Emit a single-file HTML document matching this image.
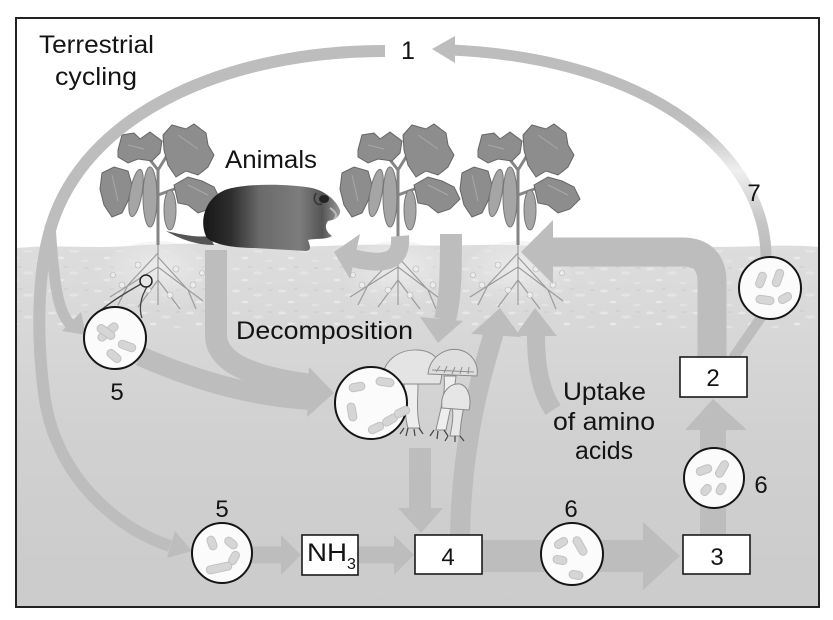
<!DOCTYPE html>
<html><head><meta charset="utf-8">
<style>
html,body{margin:0;padding:0;background:#fff;}
svg{display:block;}
text{font-family:"Liberation Sans",Arial,sans-serif;fill:#141414;}
</style></head><body>
<svg width="833" height="620" viewBox="0 0 833 620" xmlns="http://www.w3.org/2000/svg">
<defs>
 <linearGradient id="soil" x1="0" y1="245" x2="0" y2="607" gradientUnits="userSpaceOnUse">
  <stop offset="0" stop-color="#dddddd"/>
  <stop offset="0.22" stop-color="#d8d8d8"/>
  <stop offset="0.5" stop-color="#d1d1d1"/>
  <stop offset="1" stop-color="#cbcbcb"/>
 </linearGradient>
 <linearGradient id="arc7" x1="0" y1="110" x2="0" y2="250" gradientUnits="userSpaceOnUse">
  <stop offset="0" stop-color="#bdbdbd"/>
  <stop offset="0.15" stop-color="#c2c2c2"/>
  <stop offset="0.43" stop-color="#efefef"/>
  <stop offset="0.8" stop-color="#c6c6c6"/>
  <stop offset="1" stop-color="#bdbdbd"/>
 </linearGradient>
 <linearGradient id="animal" x1="200" y1="0" x2="342" y2="0" gradientUnits="userSpaceOnUse">
  <stop offset="0" stop-color="#141414"/>
  <stop offset="0.22" stop-color="#2e2e2e"/>
  <stop offset="0.42" stop-color="#6a6a6a"/>
  <stop offset="0.7" stop-color="#7d7d7d"/>
  <stop offset="0.86" stop-color="#555"/>
  <stop offset="1" stop-color="#a0a0a0"/>
 </linearGradient>
 <radialGradient id="rootz" cx="0.5" cy="0.4" r="0.6">
  <stop offset="0" stop-color="#ececec"/>
  <stop offset="1" stop-color="#e2e2e2" stop-opacity="0"/>
 </radialGradient>
 <pattern id="speck" x="0" y="0" width="46" height="22" patternUnits="userSpaceOnUse">
  <ellipse cx="6" cy="5" rx="4" ry="1.5" fill="#e9e9e9"/>
  <ellipse cx="28" cy="9" rx="5" ry="1.6" fill="#e6e6e6"/>
  <ellipse cx="15" cy="16" rx="3.5" ry="1.4" fill="#ececec"/>
  <ellipse cx="39" cy="19" rx="4" ry="1.3" fill="#e4e4e4"/>
  <ellipse cx="20" cy="3" rx="2.5" ry="1" fill="#cfcfcf"/>
  <ellipse cx="40" cy="4" rx="2.5" ry="1" fill="#d0d0d0"/>
 </pattern>
 <g id="plant">
  <path d="M0 0 L0 -75 M0 -75 L-18 -98 M0 -75 L18 -104 M0 -56 L-24 -64 M0 -50 L22 -58" stroke="#858585" stroke-width="3" fill="none"/>
  <g fill="#8d8d8d" stroke="#666" stroke-width="1">
   <path d="M-40 -95 L-36 -110 L-24 -112 L-18 -106 L-8 -113 L4 -104 L2 -92 L-6 -84 L-20 -86 L-30 -82 L-40 -88 Z"/>
   <path d="M5 -110 L14 -120 L28 -116 L36 -121 L48 -112 L50 -100 L56 -90 L50 -78 L40 -70 L28 -74 L18 -68 L10 -80 L6 -95 Z"/>
   <path d="M16 -60 L30 -68 L44 -64 L56 -58 L62 -46 L52 -36 L40 -32 L30 -40 L20 -42 Z"/>
   <path d="M-56 -72 L-44 -78 L-30 -74 L-26 -60 L-30 -44 L-36 -32 L-46 -28 L-54 -40 L-58 -56 Z"/>
  </g>
  <g fill="#a5a5a5" stroke="#777" stroke-width="1">
   <ellipse cx="-22" cy="-52" rx="6" ry="24" transform="rotate(10 -22 -52)"/>
   <ellipse cx="-8" cy="-48" rx="7" ry="30"/>
   <ellipse cx="12" cy="-35" rx="6" ry="20"/>
  </g>
  <g fill="none" stroke="#a8a8a8" stroke-width="1">
   <path d="M-30 -100 L-14 -96 M20 -110 L40 -96 M30 -60 L50 -50 M-46 -70 L-40 -44"/>
  </g>
 </g>
 <g id="roots">
  <ellipse cx="0" cy="30" rx="55" ry="34" fill="url(#rootz)"/>
  <path d="M0 0 L0 60 M0 8 L-30 40 M0 12 L30 45 M0 22 L-48 52 M0 22 L45 56 M0 35 L-20 62 M0 35 L22 64 M-30 40 L-40 60 M30 45 L38 64" stroke="#9c9c9c" stroke-width="1.2" fill="none"/>
  <g fill="#ececec" stroke="#b5b5b5" stroke-width="0.6">
   <circle cx="-20" cy="20" r="3"/><circle cx="18" cy="24" r="3"/><circle cx="-36" cy="40" r="3"/><circle cx="35" cy="40" r="3"/>
   <circle cx="-10" cy="45" r="3"/><circle cx="12" cy="50" r="3"/><circle cx="-45" cy="30" r="2.5"/><circle cx="44" cy="28" r="2.5"/>
  </g>
 </g>
</defs>

<rect width="833" height="620" fill="#fff"/>
<!-- soil -->
<path d="M17 248 C 60 244, 90 249, 130 246 S 220 243, 260 246 S 350 243, 400 245 S 480 243, 530 246 S 620 243, 680 246 S 780 243, 819 247 L819 606 L17 606 Z" fill="url(#soil)"/>
<rect x="17" y="250" width="802" height="80" fill="url(#speck)" opacity="0.8"/>

<!-- roots -->
<use href="#roots" x="158" y="245"/>
<use href="#roots" x="398" y="245"/>
<use href="#roots" x="518" y="245"/>

<!-- plants -->
<use href="#plant" x="158" y="245"/>
<use href="#plant" x="398" y="245"/>
<use href="#plant" x="518" y="245"/>

<!-- animal -->
<path d="M210 236 C195 238 180 234 166 231 C180 239 196 245 214 245 Z" fill="#555"/>
<path d="M207 238 C198 222 205 196 228 189 C250 183 290 184 312 188 C325 191 336 200 340 210 C341 216 335 220 328 221 C324 226 326 232 332 236 C326 240 316 238 308 240 C310 246 312 250 306 251 C290 250 270 249 255 248 C235 248 215 245 207 238 Z" fill="url(#animal)"/>
<ellipse cx="324" cy="199" rx="5" ry="4" fill="#222"/>
<path d="M316 193 C312 200 316 206 322 204" stroke="#333" stroke-width="1.5" fill="none"/>
<path d="M330 208 C336 212 338 216 334 219" stroke="#bbb" stroke-width="2" fill="none"/>

<!-- arrows -->
<g fill="none" stroke="#bdbdbd" stroke-linecap="butt">
 <path d="M385 51 C230 51 95 110 55 215 C38 260 35 330 45 400 C58 480 120 530 170 546" stroke-width="12"/>
 <path d="M50 225 C54 285 58 312 70 324" stroke-width="11"/>
 <path d="M766 257 C766 160 660 60 452 50" stroke="url(#arc7)" stroke-width="11"/>
 <path d="M733 358 L762 316" stroke-width="10"/>
 <path d="M216 250 L216 335 C216 362 250 377 312 385" stroke-width="22"/>
 <path d="M140 356 C190 378 250 397 312 400" stroke-width="20"/>
 <path d="M400 236 C402 262 385 266 352 258" stroke-width="18"/>
 <path d="M451 234 C451 280 450 300 445 320" stroke-width="22"/>
 <path d="M420 448 L420 510" stroke-width="22"/>
 <path d="M460 535 C462 440 480 380 494 332" stroke-width="20"/>
 <path d="M553 410 C540 390 536 365 536 335" stroke-width="18"/>
 <path d="M712 358 L712 282 Q712 252 682 252 L550 252" stroke-width="29"/>
 <path d="M713 535 L713 428" stroke-width="26"/>
 <path d="M250 555 L282 555" stroke-width="17"/>
 <path d="M358 555 L395 555" stroke-width="17"/>
 <path d="M482 556 L645 556" stroke-width="32"/>
</g>
<g fill="#bdbdbd">
 <polygon points="192,551 175,531 167,558"/>
 <polygon points="86,335 81,312 62,331"/>
 <polygon points="432,49 455,36 455,63"/>
 <polygon points="334,393 309,367 307,417"/>
 <polygon points="334,252 360,234 350,279"/>
 <polygon points="438,343 420,317 463,321"/>
 <polygon points="421,533 398,508 443,508"/>
 <polygon points="500,308 471,334 521,337"/>
 <polygon points="535,308 515,336 557,336"/>
 <polygon points="521,252 553,220 553,284"/>
 <polygon points="713,399 685,430 747,430"/>
 <polygon points="301,555 281,535 281,575"/>
 <polygon points="414,555 394,535 394,575"/>
 <polygon points="680,556 643,522 643,590"/>
</g>

<!-- mushrooms -->
<g stroke="#8a8a8a" stroke-width="1">
 <path d="M404 384 C406 400 404 415 408 428 L420 428 C416 412 418 398 418 384 Z" fill="#eeeeee"/>
 <path d="M444 376 C446 395 440 410 436 430 L446 430 C450 410 454 395 456 376 Z" fill="#eeeeee"/>
 <path d="M452 406 C454 416 452 426 450 436 L460 436 C460 426 462 416 464 406 Z" fill="#e8e8e8"/>
 <path d="M383 384 C380 362 398 349 418 350 C436 351 446 365 440 384 Z" fill="#e4e4e4"/>
 <path d="M428 374 C430 356 446 347 460 350 C472 353 479 364 477 376 Z" fill="#dedede"/>
 <path d="M432 370 L474 372 M436 372 L440 366 M444 373 L447 366 M452 374 L455 367 M460 374 L462 367 M468 374 L469 367" stroke="#8f8f8f" fill="none"/>
 <path d="M442 408 C440 392 450 383 460 384 C468 386 472 398 469 410 Z" fill="#e6e6e6"/>
</g>
<path d="M404 428 l-4 6 M408 428 l-2 8 M414 429 l1 7 M419 428 l4 6 M434 430 l-4 6 M438 431 l-1 8 M444 430 l4 6 M448 436 l-3 5 M455 436 l0 6 M460 436 l4 5" stroke="#444" stroke-width="1.2" fill="none"/>

<!-- callout -->
<path d="M141 284 C125 293 105 305 95 316" stroke="#444" stroke-width="1.3" fill="none"/>
<path d="M147 287 C140 298 139 310 142 318" stroke="#444" stroke-width="1.3" fill="none"/>
<circle cx="146" cy="281" r="6" fill="#e6e6e6" stroke="#222" stroke-width="1.5"/>

<!-- circles -->
<g fill="#fbfbfb" stroke="#151515" stroke-width="2">
 <circle cx="115" cy="338" r="31"/>
 <circle cx="371" cy="403" r="36"/>
 <circle cx="222" cy="553" r="30"/>
 <circle cx="572" cy="554" r="31"/>
 <circle cx="714" cy="478" r="30"/>
 <circle cx="770" cy="288" r="31"/>
</g>
<!-- bacteria -->
<g fill="#d6d6d6" stroke="#c2c2c2" stroke-width="1">
 <rect x="-12" y="-4" width="24" height="8" rx="4" transform="translate(108,332) rotate(-40)"/>
 <rect x="-10" y="-4" width="20" height="8" rx="4" transform="translate(106,332) rotate(35)"/>
 <rect x="-9" y="-4" width="18" height="8" rx="4" transform="translate(127,346) rotate(20)"/>
 <rect x="-8" y="-4" width="16" height="8" rx="4" transform="translate(114,356) rotate(40)"/>

 <rect x="-8" y="-4" width="16" height="8" rx="4" transform="translate(357,387) rotate(-10)"/>
 <rect x="-9" y="-4" width="18" height="8" rx="4" transform="translate(385,382) rotate(8)"/>
 <rect x="-9" y="-4" width="18" height="8" rx="4" transform="translate(352,412) rotate(80)"/>
 <rect x="-8" y="-4" width="16" height="8" rx="4" transform="translate(376,428) rotate(-25)"/>
 <rect x="-8" y="-4" width="16" height="8" rx="4" transform="translate(390,420) rotate(-30)"/>
 <rect x="-8" y="-4" width="16" height="8" rx="4" transform="translate(402,412) rotate(-25)"/>

 <rect x="-7" y="-4" width="14" height="8" rx="4" transform="translate(212,543) rotate(70)"/>
 <rect x="-7" y="-4" width="14" height="8" rx="4" transform="translate(231,543) rotate(40)"/>
 <rect x="-7" y="-4" width="14" height="8" rx="4" transform="translate(234,558) rotate(-60)"/>
 <rect x="-13" y="-4" width="26" height="8" rx="4" transform="translate(219,568) rotate(-12)"/>

 <rect x="-7" y="-4" width="14" height="8" rx="4" transform="translate(561,543) rotate(-30)"/>
 <rect x="-10" y="-4" width="20" height="8" rx="4" transform="translate(580,546) rotate(60)"/>
 <rect x="-7" y="-4" width="14" height="8" rx="4" transform="translate(560,560) rotate(10)"/>
 <rect x="-7" y="-4" width="14" height="8" rx="4" transform="translate(576,575) rotate(10)"/>

 <rect x="-8" y="-4" width="16" height="8" rx="4" transform="translate(704,470) rotate(-20)"/>
 <rect x="-9" y="-4" width="18" height="8" rx="4" transform="translate(722,469) rotate(-60)"/>
 <rect x="-6" y="-4" width="12" height="8" rx="4" transform="translate(706,490) rotate(-50)"/>
 <rect x="-6" y="-4" width="12" height="8" rx="4" transform="translate(721,489) rotate(-60)"/>

 <rect x="-8" y="-4" width="16" height="8" rx="4" transform="translate(761,280) rotate(-70)"/>
 <rect x="-9" y="-4" width="18" height="8" rx="4" transform="translate(778,278) rotate(-70)"/>
 <rect x="-9" y="-4" width="18" height="8" rx="4" transform="translate(765,300) rotate(8)"/>
 <rect x="-7" y="-4" width="14" height="8" rx="4" transform="translate(785,298) rotate(-30)"/>
</g>

<!-- boxes -->
<g fill="#fff" stroke="#1a1a1a" stroke-width="1.6">
 <rect x="302" y="535" width="56" height="40"/>
 <rect x="415" y="535" width="67" height="39"/>
 <rect x="683" y="535" width="67" height="39"/>
 <rect x="680" y="357" width="67" height="40"/>
</g>

<!-- frame -->
<rect x="16" y="18" width="803" height="589" fill="none" stroke="#222" stroke-width="2"/>

<!-- text -->
<text x="39" y="53" font-size="25" textLength="115" lengthAdjust="spacingAndGlyphs">Terrestrial</text>
<text x="55" y="85" font-size="25" textLength="82" lengthAdjust="spacingAndGlyphs">cycling</text>
<text x="408" y="59" font-size="25" text-anchor="middle">1</text>
<text x="225" y="168" font-size="25" textLength="92" lengthAdjust="spacingAndGlyphs">Animals</text>
<text x="754" y="201" font-size="24" text-anchor="middle">7</text>
<text x="236" y="339" font-size="25" textLength="177" lengthAdjust="spacingAndGlyphs">Decomposition</text>
<text x="117" y="400" font-size="24" text-anchor="middle">5</text>
<text x="222" y="517" font-size="24" text-anchor="middle">5</text>
<text x="571" y="517" font-size="24" text-anchor="middle">6</text>
<text x="761" y="493" font-size="24" text-anchor="middle">6</text>
<text x="563" y="400" font-size="25" textLength="83" lengthAdjust="spacingAndGlyphs">Uptake</text>
<text x="553" y="430" font-size="25" textLength="102" lengthAdjust="spacingAndGlyphs">of amino</text>
<text x="575" y="459" font-size="25" textLength="58" lengthAdjust="spacingAndGlyphs">acids</text>
<text x="307" y="561" font-size="25" textLength="40" lengthAdjust="spacingAndGlyphs">NH</text>
<text x="347" y="569" font-size="16">3</text>
<text x="448" y="565" font-size="24" text-anchor="middle">4</text>
<text x="717" y="565" font-size="24" text-anchor="middle">3</text>
<text x="713" y="386" font-size="24" text-anchor="middle">2</text>
</svg>
</body></html>
